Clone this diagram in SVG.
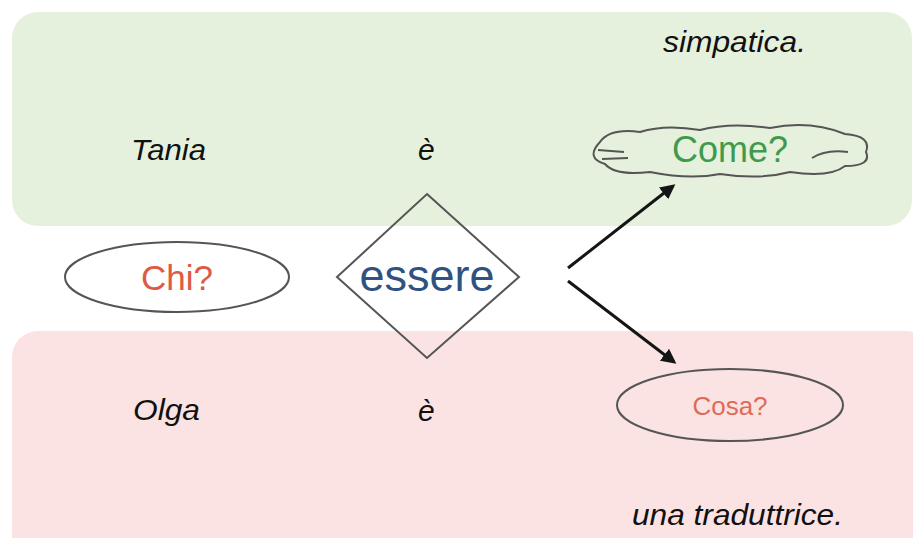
<svg xmlns="http://www.w3.org/2000/svg" width="913" height="538" viewBox="0 0 913 538">
<defs>
<style>
.it{font-family:"Liberation Sans",Arial,sans-serif;font-style:italic;font-size:30px;fill:#111;}
.lbl{font-family:"Liberation Sans",Arial,sans-serif;text-anchor:middle;}
.shape{fill:none;stroke:#555;stroke-width:2;}
.conn{stroke:#151515;stroke-width:3;fill:none;marker-end:url(#ah);}
</style>
<marker id="ah" viewBox="0 0 10 10" refX="8" refY="5" markerWidth="5" markerHeight="5" orient="auto" markerUnits="strokeWidth">
<path d="M0,0 L10,5 L0,10 z" fill="#151515"/>
</marker>
</defs>
<rect width="913" height="538" fill="#ffffff"/>
<rect id="band-green" x="12" y="12" width="900" height="214" rx="26" fill="#e5f1dd"/>
<rect id="band-pink" x="12" y="331" width="920" height="230" rx="26" fill="#fbe3e3"/>

<text class="it" x="663" y="52" textLength="143" lengthAdjust="spacingAndGlyphs">simpatica.</text>
<text class="it" x="131" y="160" textLength="75" lengthAdjust="spacingAndGlyphs">Tania</text>
<text class="it" x="418" y="160">è</text>
<text class="it" x="133" y="420" textLength="67" lengthAdjust="spacingAndGlyphs">Olga</text>
<text class="it" x="418" y="421">è</text>
<text class="it" x="632" y="525" textLength="211" lengthAdjust="spacingAndGlyphs">una traduttrice.</text>

<g id="come">
<path class="shape" stroke="#4a5a44" d="M600,142 Q610,128 640,132 Q665,124 700,130 Q730,122 770,128 Q810,120 845,134 Q872,136 866,152 Q872,166 845,166 Q830,178 790,172 Q760,180 720,174 Q690,180 650,172 Q615,176 605,164 Q585,158 600,142 Z"/>
<path class="shape" stroke="#4a5a44" d="M598,150 L624,152 M602,159 L628,158 M812,158 Q826,149 848,152"/>
<text class="lbl" x="730" y="162" font-size="36" fill="#3f9a4b">Come?</text>
</g>

<g id="chi">
<ellipse class="shape" cx="177" cy="277" rx="112" ry="35"/>
<text class="lbl" x="177" y="290" font-size="35" fill="#de5a45">Chi?</text>
</g>

<g id="essere">
<polygon class="shape" points="427,194 519,277 427,358 337,277"/>
<text class="lbl" x="427" y="291" font-size="45" fill="#2f5283">essere</text>
</g>

<g id="cosa">
<ellipse class="shape" cx="730" cy="405" rx="113" ry="36"/>
<text class="lbl" x="730" y="415" font-size="26" fill="#e06a58">Cosa?</text>
</g>

<g id="connectors">
<line class="conn" x1="568" y1="268" x2="673" y2="186"/>
<line class="conn" x1="568" y1="281" x2="674" y2="362"/>
</g>
</svg>
